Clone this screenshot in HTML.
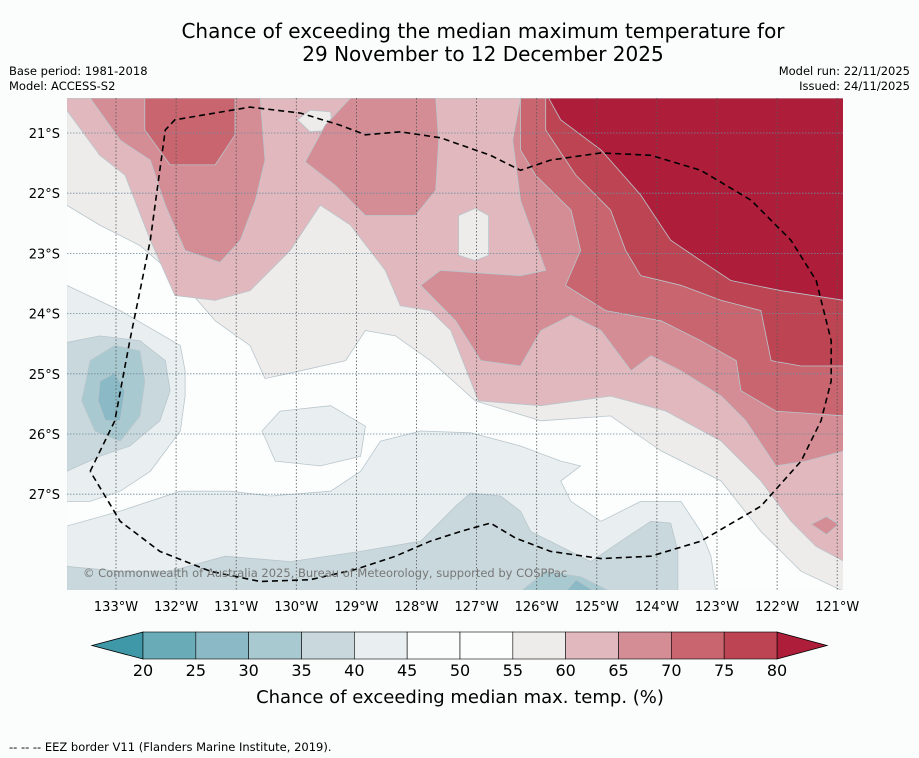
<!DOCTYPE html>
<html><head><meta charset="utf-8">
<style>
body{margin:0;background:#fbfdfd;width:919px;height:758px;overflow:hidden;font-family:"DejaVu Sans","Liberation Sans",sans-serif;}
svg{position:absolute;left:0;top:0;font-family:"DejaVu Sans","Liberation Sans",sans-serif;}
</style></head>
<body>
<svg id="chart" width="919" height="758">
<rect width="919" height="758" fill="#fbfdfd"/>
<text x="483" y="38" font-size="20" text-anchor="middle" fill="#000">Chance of exceeding the median maximum temperature for</text>
<text x="483" y="61" font-size="20" text-anchor="middle" fill="#000">29 November to 12 December 2025</text>
<text x="9" y="75" font-size="11.5">Base period: 1981-2018</text>
<text x="9" y="90" font-size="11.5">Model: ACCESS-S2</text>
<text x="910" y="75" font-size="11.5" text-anchor="end">Model run: 22/11/2025</text>
<text x="910" y="90" font-size="11.5" text-anchor="end">Issued: 24/11/2025</text>
<defs><clipPath id="mapclip"><rect x="67" y="98" width="776" height="492"/></clipPath></defs>
<rect x="67" y="98" width="776" height="492" fill="#fcfefe"/>
<g id="fills" clip-path="url(#mapclip)"></g>
<g id="grid" clip-path="url(#mapclip)"></g>
<g id="eez" clip-path="url(#mapclip)"></g>
<text x="83" y="577" font-size="11.5" fill="#777">© Commonwealth of Australia 2025, Bureau of Meteorology, supported by COSPPac</text>
<g id="axes"></g>
<g id="colorbar"></g>
<text x="460" y="703" font-size="18" text-anchor="middle">Chance of exceeding median max. temp. (%)</text>
<text x="9" y="751" font-size="11.5">--  --  -- EEZ border V11 (Flanders Marine Institute, 2019).</text>
</svg>
<script>
// axis ticks
const lonTicks=[133,132,131,130,129,128,127,126,125,124,123,122,121];
const latTicks=[21,22,23,24,25,26,27];
// colorbar
const cbLevels=[20,25,30,35,40,45,50,55,60,65,70,75,80];
const cbColors=["#6aabb8","#8bbac6","#a8c9cf","#c8d8dc","#e9eff1","#fbfdfd","#fcfefe","#eeeceb","#e0b8bd","#d48c95","#c9656f","#bd4553"];
const cbUnder="#3f98a8", cbOver="#ae1e3a";
// contour regions: [lower bound level, points as [lonW, latS]]
const regionLevels=[55,60,55,55,65,65,65,65,70,70,75,80,40,40,40,35,35,30,30,25,25];
const regionShapes=[
[[133.82,22.2],[133.27,22.53],[132.6,22.87],[131.93,23.45],[131.35,24.12],[130.77,24.53],[130.52,25.08],[129.93,24.95],[129.18,24.78],[128.85,24.28],[128.35,24.37],[127.77,24.78],[127.02,25.45],[125.93,25.78],[124.77,25.7],[123.93,26.28],[122.93,26.78],[122.27,27.62],[121.6,28.28],[120.88,28.62],[120.88,20.42],[133.82,20.42]],
[[133.82,20.42],[133.82,20.62],[133.52,21.03],[133.27,21.37],[132.85,21.7],[132.43,22.78],[132.02,23.7],[131.35,23.78],[130.77,23.62],[130.1,22.95],[129.6,22.2],[129.1,22.53],[128.52,23.28],[128.27,23.87],[127.77,23.95],[127.43,24.28],[127.1,25.12],[126.97,25.45],[125.93,25.53],[124.77,25.37],[123.85,25.62],[122.93,26.12],[122.27,26.78],[121.77,27.45],[121.35,27.87],[120.88,28.12],[120.88,20.42]],
[[127.3,22.37],[127.02,22.25],[126.8,22.37],[126.8,23.03],[127.02,23.12],[127.3,23.03]],
[[129.98,20.78],[129.77,20.62],[129.43,20.65],[129.4,20.95],[129.77,20.98]],
[[133.43,20.42],[132.93,21.12],[132.43,21.45],[132.18,22.2],[131.85,22.95],[131.27,23.15],[130.93,22.78],[130.68,22.12],[130.52,21.45],[130.6,20.42]],
[[129.1,20.42],[129.52,20.87],[129.85,21.48],[129.35,21.87],[128.85,22.37],[128.02,22.37],[127.68,21.95],[127.63,21.12],[127.68,20.42]],
[[126.27,20.42],[126.4,21.12],[126.27,22.12],[125.85,23.28],[126.27,23.37],[127.6,23.28],[127.93,23.53],[127.35,24.12],[126.93,24.78],[126.27,24.87],[125.93,24.28],[125.43,24.03],[124.93,24.28],[124.43,24.95],[124.1,24.7],[123.6,24.95],[122.93,25.37],[122.52,25.78],[122.02,26.53],[121.52,26.45],[120.88,26.28],[120.88,20.42]],
[[121.43,27.5],[121.18,27.37],[120.98,27.5],[121.18,27.67]],
[[132.52,20.42],[132.52,20.95],[132.1,21.53],[131.35,21.53],[131.02,21.03],[131.02,20.42]],
[[126.27,20.42],[126.27,21.28],[126.02,21.7],[125.43,22.28],[125.27,22.95],[125.52,23.53],[124.85,23.95],[123.93,24.12],[123.27,24.45],[122.68,24.78],[122.6,25.28],[122.02,25.62],[120.88,25.7],[120.88,20.42]],
[[125.85,20.42],[125.85,20.95],[125.35,21.7],[124.77,22.28],[124.52,22.95],[124.27,23.37],[123.6,23.53],[122.93,23.78],[122.27,23.95],[122.1,24.78],[121.6,24.87],[120.88,24.87],[120.88,20.42]],
[[125.8,20.42],[125.6,20.78],[124.93,21.28],[124.27,22.03],[123.77,22.78],[123.27,23.12],[122.77,23.45],[121.93,23.62],[120.88,23.78],[120.88,20.42]],
[[133.82,23.53],[132.93,23.95],[131.93,24.53],[131.85,24.95],[131.85,25.37],[131.93,25.95],[132.43,26.62],[132.93,26.95],[133.43,27.12],[133.82,27.12]],
[[133.82,27.53],[132.93,27.28],[131.93,26.95],[131.1,26.95],[130.43,27.03],[129.43,26.95],[128.93,26.62],[128.6,26.12],[127.93,25.95],[127.1,25.98],[126.27,26.2],[125.6,26.45],[125.27,26.53],[125.6,26.78],[125.43,27.12],[124.93,27.45],[124.27,27.12],[123.6,27.12],[123.27,27.62],[123.1,28.03],[123.02,28.62],[133.82,28.62]],
[[130.57,25.95],[130.27,25.62],[129.43,25.53],[128.85,25.87],[128.93,26.37],[129.6,26.53],[130.35,26.45]],
[[133.82,24.48],[133.27,24.37],[132.6,24.45],[132.18,24.78],[132.1,25.28],[132.27,25.78],[132.77,26.2],[133.27,26.37],[133.82,26.62]],
[[133.82,28.2],[132.93,28.28],[132.1,28.28],[131.18,28.03],[130.1,28.12],[128.93,27.95],[127.93,27.78],[127.35,27.2],[127.1,26.98],[126.6,27.03],[126.27,27.28],[126.1,27.62],[125.1,28.12],[124.6,27.78],[124.1,27.45],[123.77,27.48],[123.65,27.95],[123.65,28.62],[133.82,28.62]],
[[133.43,24.78],[133.02,24.53],[132.6,24.62],[132.52,25.12],[132.6,25.7],[132.93,26.12],[133.35,25.95],[133.57,25.45]],
[[126.27,28.62],[125.85,28.28],[125.27,28.37],[124.77,28.62]],
[[133.3,25.45],[133.27,25.12],[133.02,24.98],[132.85,25.28],[132.93,25.78],[133.18,25.78]],
[[125.52,28.62],[125.35,28.42],[125.02,28.62]]
];
const eezLine=[[133.43,26.62],[133.02,25.78],[132.77,24.45],[132.43,22.78],[132.18,20.95],[132.02,20.78],[130.77,20.57],[129.93,20.67],[129.27,20.87],[128.85,21.03],[128.27,20.98],[127.6,21.08],[126.77,21.37],[126.27,21.62],[125.77,21.45],[124.93,21.33],[124.1,21.37],[123.27,21.62],[122.43,22.12],[121.77,22.78],[121.35,23.45],[121.1,24.45],[121.1,25.12],[121.27,25.78],[121.6,26.45],[122.27,27.2],[123.27,27.78],[124.1,28.03],[124.93,28.07],[125.77,27.95],[126.35,27.73],[126.77,27.48],[127.27,27.62],[127.77,27.78],[128.35,28.03],[129.02,28.25],[129.77,28.42],[130.6,28.45],[131.43,28.28],[132.27,27.95],[132.93,27.45],[133.43,26.62]];

const NS="http://www.w3.org/2000/svg";
function xS(lonW){return 116+(133-lonW)*60.1;}
function yS(latS){return 133+(latS-21)*60.2;}
function colorFor(level){
  if(level>=80)return cbOver;
  return cbColors[cbLevels.indexOf(level)];
}
function mk(tag,attrs,parent){const e=document.createElementNS(NS,tag);for(const k in attrs)e.setAttribute(k,attrs[k]);parent.appendChild(e);return e;}

const fills=document.getElementById('fills');
regionShapes.forEach((pts,i)=>{
  const lv=regionLevels[i];
  const p=mk('polygon',{points:pts.map(q=>xS(q[0]).toFixed(1)+','+yS(q[1]).toFixed(1)).join(' '),fill:colorFor(lv),stroke:'#b9c6cc','stroke-width':0.8},fills);
  
  
});

const grid=document.getElementById('grid');
const axes=document.getElementById('axes');
lonTicks.forEach(l=>{
  const x=xS(l);
  const g=mk('line',{x1:x,x2:x,y1:98,y2:590,stroke:'#555','stroke-width':0.8,'stroke-dasharray':'1.5,2'},grid);
  
  
  const t=mk('text',{x:x,y:611,'font-size':13,'text-anchor':'middle'},axes);
  t.textContent=l+'°W';
  
  
});
latTicks.forEach(l=>{
  const y=yS(l);
  const g=mk('line',{x1:67,x2:843,y1:y,y2:y,stroke:'#6f8a9c','stroke-width':0.8,'stroke-dasharray':'1.5,1.5'},grid);
  
  
  const t=mk('text',{x:60,y:y+5,'font-size':13,'text-anchor':'end'},axes);
  t.textContent=l+'°S';
  
  
});

const eez=document.getElementById('eez');
const el=mk('polyline',{points:eezLine.map(q=>xS(q[0]).toFixed(1)+','+yS(q[1]).toFixed(1)).join(' '),fill:'none',stroke:'#000','stroke-width':1.6,'stroke-dasharray':'6,4'},eez);



// colorbar
const cb=document.getElementById('colorbar');
const cbX0=143,cbX1=777,cbY0=632,cbY1=659;
function cbX(v){return cbX0+(v-cbLevels[0])/(cbLevels[cbLevels.length-1]-cbLevels[0])*(cbX1-cbX0);}
const under=mk('polygon',{points:`${cbX0},${cbY0} ${cbX0},${cbY1} 92,${(cbY0+cbY1)/2}`,fill:cbUnder,stroke:'#000','stroke-width':0.8},cb);


const over=mk('polygon',{points:`${cbX1},${cbY0} ${cbX1},${cbY1} 827,${(cbY0+cbY1)/2}`,fill:cbOver,stroke:'#000','stroke-width':0.8},cb);


cbColors.forEach((c,i)=>{
  const x0=cbX(cbLevels[i]),x1=cbX(cbLevels[i+1]);
  const r=mk('rect',{x:x0,y:cbY0,width:x1-x0,height:cbY1-cbY0,fill:c,stroke:'#000','stroke-width':0.6},cb);
  
  
});
cbLevels.forEach(v=>{
  const t=mk('text',{x:cbX(v),y:676,'font-size':16,'text-anchor':'middle'},cb);
  t.textContent=v;
  
  
});
</script>
</body></html>
